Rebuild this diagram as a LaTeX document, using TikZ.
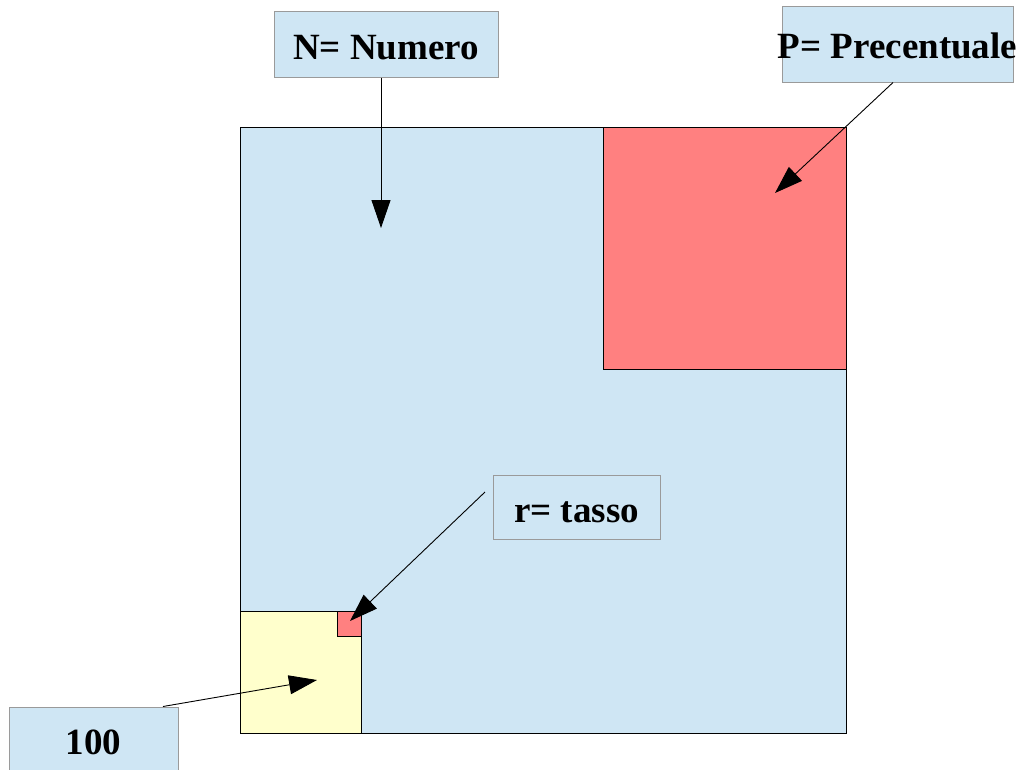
\documentclass[tikz,border=0pt]{standalone}
\usepackage{fontspec}
\setmainfont{Liberation Serif}
\usetikzlibrary{arrows.meta}
\definecolor{lblue}{HTML}{CFE6F4}
\definecolor{lred}{HTML}{FF8080}
\definecolor{lyellow}{HTML}{FFFFCC}
\definecolor{bgray}{HTML}{9A9A9A}
\tikzset{
  label box/.style={draw=bgray, line width=1pt, fill=lblue, inner sep=0pt,
    font=\fontsize{37}{40}\selectfont\bfseries, text=black},
  lowered/.style={text height=31pt, text depth=0pt},
  pointer/.style={draw=black, line width=0.9pt, -{Triangle[length=28pt,width=19pt]}},
  sq/.style={draw=black, line width=0.9pt}
}
\begin{document}
\begin{tikzpicture}[x=1pt,y=-1pt]
\useasboundingbox (0,0) rectangle (1026,769);
% squares
\draw[sq, fill=lblue] (240,127) rectangle (846,733);
\draw[sq, fill=lred] (603,127) rectangle (846,369);
\draw[sq, fill=lyellow] (240,611) rectangle (361,733);
\draw[sq, fill=lred] (337,611) rectangle (361,636);
% label boxes
\node[label box, lowered, minimum width=224pt, minimum height=66pt] (n) at (386,44) {N= Numero};
\node[label box, minimum width=231pt, minimum height=76pt] (p) at (897.5,44) {};
\node[font=\fontsize{37}{40}\selectfont\bfseries] (pt) at (897.5,46) {P= Precentuale};
\node[label box, lowered, minimum width=167pt, minimum height=64pt] (r) at (576.5,507) {r= tasso};
\node[label box, minimum width=169pt, minimum height=70pt] (h) at (93.5,742) {100};
% arrow targets
\coordinate (tn) at (381,228);
\coordinate (tp) at (775,193);
\coordinate (tr) at (350,621);
\coordinate (th) at (317,680);
\coordinate (sr) at (485,492);
% arrows
\draw[pointer] (n.south -| tn) -- (tn);
\draw[pointer] ([xshift=-4.5pt]p.south) -- (tp);
\draw[pointer] (sr) -- (tr);
\draw[pointer] ([xshift=69.5pt]h.north) -- (th);
\end{tikzpicture}
\end{document}
